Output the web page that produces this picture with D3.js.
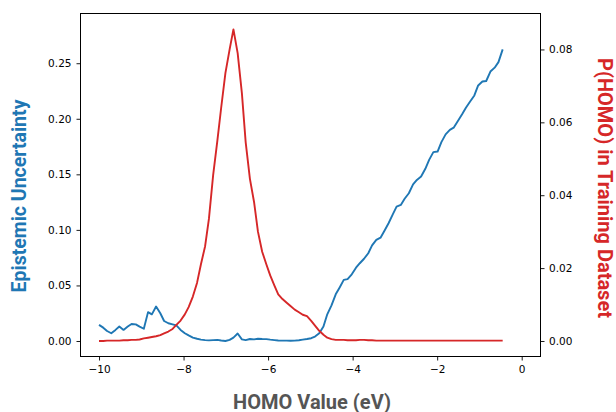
<!DOCTYPE html>
<html>
<head>
<meta charset="utf-8">
<script src="https://cdn.jsdelivr.net/npm/d3@7"></script>
<style>
  body { margin: 0; background: #fff; }
  .tick text { font-family: "DejaVu Sans", sans-serif; font-size: 10.5px; fill: #000; }
  .tick line { stroke: #000; stroke-width: 0.9; }
  .label { font-family: Roboto, "Liberation Sans", sans-serif; font-weight: bold; font-size: 20px; }
</style>
</head>
<body>
<div class="canvas"></div>
<script>
// DATA
const homo = [
  -10.00, -9.90, -9.81, -9.71, -9.61, -9.52, -9.42, -9.32, -9.23, -9.13,
  -9.04, -8.94, -8.84, -8.75, -8.65, -8.55, -8.46, -8.36, -8.26, -8.17,
  -8.07, -7.97, -7.88, -7.78, -7.68, -7.59, -7.49, -7.40, -7.30, -7.20,
  -7.11, -7.01, -6.91, -6.82, -6.72, -6.62, -6.53, -6.43, -6.33, -6.24,
  -6.14, -6.04, -5.95, -5.85, -5.76, -5.66, -5.56, -5.47, -5.37, -5.27,
  -5.18, -5.08, -4.98, -4.89, -4.79, -4.69, -4.60, -4.50, -4.40, -4.31,
  -4.21, -4.12, -4.02, -3.92, -3.83, -3.73, -3.63, -3.54, -3.44, -3.34,
  -3.25, -3.15, -3.05, -2.96, -2.86, -2.77, -2.67, -2.57, -2.48, -2.38,
  -2.28, -2.19, -2.09, -1.99, -1.90, -1.80, -1.70, -1.61, -1.51, -1.41,
  -1.32, -1.22, -1.12, -1.03, -0.93, -0.84, -0.74, -0.64, -0.55, -0.45
];

const uncertainty = [
  0.0145, 0.0120, 0.0090, 0.0070, 0.0100, 0.0130, 0.0100, 0.0130, 0.0153, 0.0150,
  0.0130, 0.0110, 0.0260, 0.0240, 0.0310, 0.0250, 0.0180, 0.0160, 0.0150, 0.0140,
  0.0100, 0.0070, 0.0050, 0.0030, 0.0020, 0.0012, 0.0008, 0.0006, 0.0008, 0.0010,
  0.0004, 0.0000, 0.0010, 0.0030, 0.0067, 0.0015, 0.0008, 0.0018, 0.0015, 0.0020,
  0.0018, 0.0017, 0.0012, 0.0008, 0.0005, 0.0003, 0.0003, 0.0002, 0.0003, 0.0007,
  0.0012, 0.0018, 0.0025, 0.0040, 0.0070, 0.0130, 0.0240, 0.0320, 0.0420, 0.0480,
  0.0550, 0.0557, 0.0600, 0.0660, 0.0700, 0.0740, 0.0790, 0.0860, 0.0910, 0.0930,
  0.0990, 0.1060, 0.1140, 0.1210, 0.1225, 0.1280, 0.1330, 0.1410, 0.1450, 0.1480,
  0.1550, 0.1630, 0.1700, 0.1705, 0.1790, 0.1860, 0.1900, 0.1920, 0.1980, 0.2040,
  0.2100, 0.2155, 0.2210, 0.2300, 0.2335, 0.2340, 0.2425, 0.2460, 0.2510, 0.2625
];

const density = [
  0.0000, 0.0000, 0.0001, 0.0001, 0.0001, 0.0001, 0.0002, 0.0002, 0.0003, 0.0003,
  0.0004, 0.0007, 0.0009, 0.0011, 0.0013, 0.0016, 0.0021, 0.0026, 0.0033, 0.0044,
  0.0056, 0.0073, 0.0093, 0.0122, 0.0160, 0.0210, 0.0260, 0.0335, 0.0455, 0.0550,
  0.0640, 0.0735, 0.0800, 0.0855, 0.0790, 0.0680, 0.0545, 0.0445, 0.0380, 0.0300,
  0.0245, 0.0210, 0.0180, 0.0152, 0.0128, 0.0115, 0.0105, 0.0096, 0.0086, 0.0079,
  0.0072, 0.0068, 0.0055, 0.0042, 0.0028, 0.0017, 0.0009, 0.0005, 0.0003, 0.0003,
  0.0003, 0.0002, 0.0002, 0.0002, 0.0003, 0.0003, 0.0002, 0.0002, 0.0001, 0.0001,
  0.0001, 0.0001, 0.0001, 0.0001, 0.0001, 0.0001, 0.0001, 0.0001, 0.0001, 0.0001,
  0.0001, 0.0001, 0.0001, 0.0001, 0.0001, 0.0001, 0.0001, 0.0001, 0.0001, 0.0001,
  0.0001, 0.0001, 0.0001, 0.0001, 0.0001, 0.0001, 0.0001, 0.0001, 0.0001, 0.0001
];

const xTicks = [-10, -8, -6, -4, -2, 0];
const leftTicks = [0, 0.05, 0.10, 0.15, 0.20, 0.25];
const rightTicks = [0, 0.02, 0.04, 0.06, 0.08];

const blue = "#1f77b4";
const red = "#d62728";

// Dimensions
const W = 616, H = 412;
const plot = { left: 80, right: 540, top: 13, bottom: 356 };

const svg = d3.select(".canvas")
  .append("svg")
  .attr("width", W)
  .attr("height", H);

// SCALES
const xScale = d3.scaleLinear().domain([-10.45, 0.433]).range([plot.left, plot.right]);
const yLeft = d3.scaleLinear().domain([-0.0135, 0.2952]).range([plot.bottom, plot.top]);
const yRight = d3.scaleLinear().domain([-0.00412, 0.09]).range([plot.bottom, plot.top]);

// AXES
const xAxis = svg.append("g")
  .attr("transform", `translate(0,${plot.bottom + 0.5})`)
  .call(d3.axisBottom(xScale).tickValues(xTicks).tickFormat(d3.format("d"))
    .tickSize(4).tickSizeOuter(0).tickPadding(5.5));

const leftAxis = svg.append("g")
  .attr("transform", `translate(${plot.left + 0.5},0)`)
  .call(d3.axisLeft(yLeft).tickValues(leftTicks).tickFormat(d3.format(".2f"))
    .tickSize(4).tickSizeOuter(0).tickPadding(5));

const rightAxis = svg.append("g")
  .attr("transform", `translate(${plot.right + 0.5},0)`)
  .call(d3.axisRight(yRight).tickValues(rightTicks).tickFormat(d3.format(".2f"))
    .tickSize(4).tickSizeOuter(0).tickPadding(4.5));

svg.selectAll(".domain").remove();

// LINES
const idx = d3.range(homo.length);

svg.append("path")
  .attr("d", d3.line().x(i => xScale(homo[i])).y(i => yLeft(uncertainty[i]))(idx))
  .attr("fill", "none")
  .attr("stroke", blue)
  .attr("stroke-width", 1.9)
  .attr("stroke-linejoin", "round");

svg.append("path")
  .attr("d", d3.line().x(i => xScale(homo[i])).y(i => yRight(density[i]))(idx))
  .attr("fill", "none")
  .attr("stroke", red)
  .attr("stroke-width", 1.9)
  .attr("stroke-linejoin", "round");

// FRAME
svg.append("rect")
  .attr("x", plot.left + 0.5)
  .attr("y", plot.top + 0.5)
  .attr("width", plot.right - plot.left)
  .attr("height", plot.bottom - plot.top)
  .attr("fill", "none")
  .attr("stroke", "#000")
  .attr("stroke-width", 1);

// LABELS
svg.append("text")
  .attr("class", "label")
  .attr("x", (plot.left + plot.right) / 2 + 2)
  .attr("y", 408.5)
  .attr("text-anchor", "middle")
  .attr("fill", "#555")
  .text("HOMO Value (eV)");

svg.append("text")
  .attr("class", "label")
  .attr("transform", `translate(26,196) rotate(-90)`)
  .attr("text-anchor", "middle")
  .attr("fill", blue)
  .style("font-size", "19.5px")
  .text("Epistemic Uncertainty");

svg.append("text")
  .attr("class", "label")
  .attr("transform", `translate(598,188) rotate(90)`)
  .attr("text-anchor", "middle")
  .attr("fill", red)
  .text("P(HOMO) in Training Dataset");
</script>
</body>
</html>
